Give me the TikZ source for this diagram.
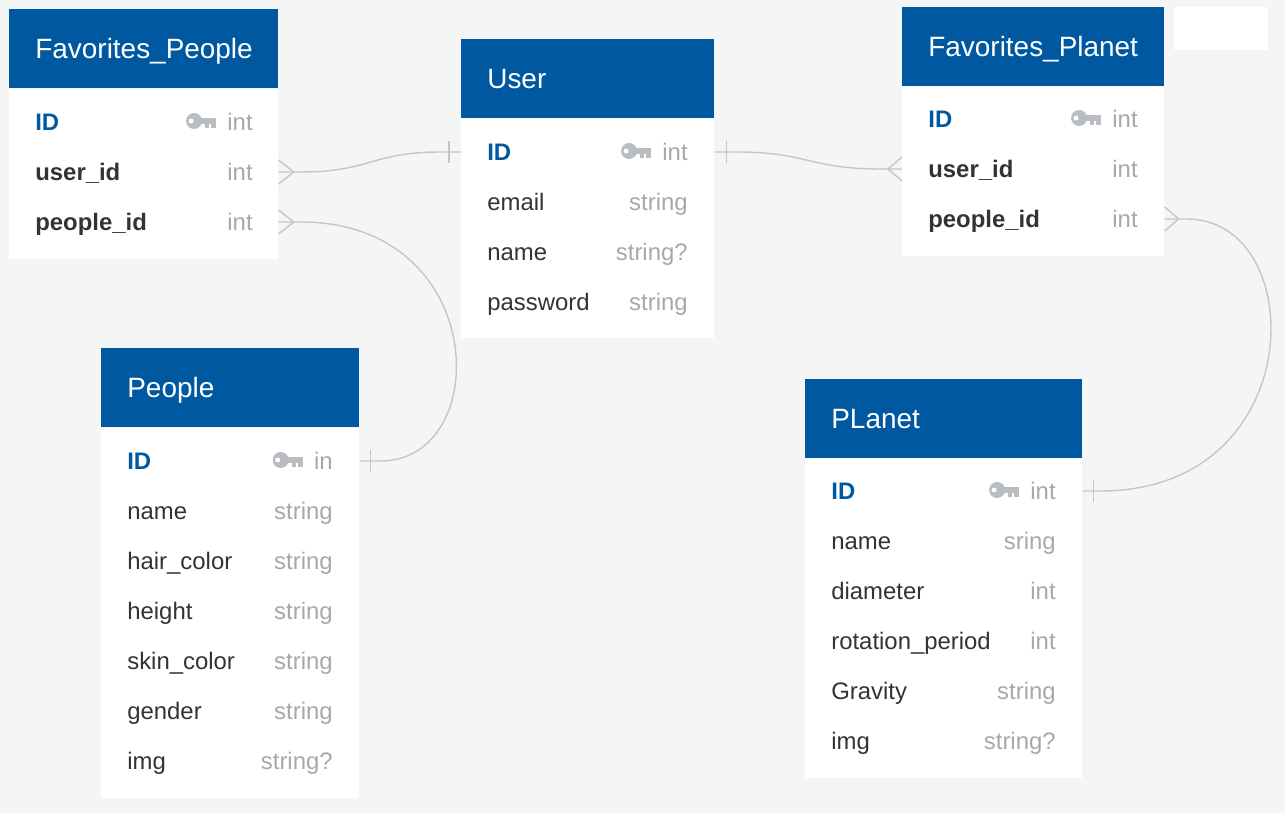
\documentclass[tikz,border=0pt]{standalone}
\usepackage{fontspec}
\setmainfont{Liberation Sans}
\usetikzlibrary{positioning,calc}
\definecolor{erblue}{HTML}{0059A0}
\definecolor{erbg}{HTML}{F4F5F5}
\definecolor{erdark}{HTML}{333333}
\definecolor{ergrey}{HTML}{A5A9AE}
\definecolor{erkey}{HTML}{B9BDC2}
\definecolor{erline}{HTML}{C6C6C6}

\tikzset{
  keyicon/.pic={
    \fill[erkey] (-22,-1) circle[radius=0.16cm];
    \fill[erkey] (-16,-3.5) rectangle (0,2);
    \fill[erkey] (-11,2) rectangle (-7,6);
    \fill[erkey] (-5,2) rectangle (0,6);
    \fill[white] (-25,-1) circle[radius=0.05cm];
  }
}

\begin{document}
\begin{tikzpicture}[x=0.02cm, y=-0.02cm,
    hdr/.style={fill=erblue, anchor=north west, inner sep=0, minimum height=1.58cm},
    body/.style={fill=white, anchor=north, inner sep=0},
    title/.style={text=white, anchor=west, inner sep=0, font=\fontsize{15.9}{18}\selectfont, text height=0.4cm, text depth=0pt},
    field/.style={text=erdark, anchor=west, inner sep=0, font=\fontsize{13.6}{16}\selectfont, text height=0.344cm, text depth=0pt},
    pk/.style={field, text=erblue, font=\fontsize{13.6}{16}\selectfont\bfseries},
    fk/.style={field, font=\fontsize{13.6}{16}\selectfont\bfseries},
    ftype/.style={field, text=ergrey, anchor=east},
    rel/.style={draw=erline, line width=0.8pt}]
  \useasboundingbox (0,0) rectangle (1285,813);
  \fill[erbg] (0,0) rectangle (1285,813);
  \fill[white] (1174,7) rectangle (1268,50);

  % Favorites_People
  \node[hdr, minimum width=5.38cm] (fpHead) at (9,9) {};
  \node[title] (fpTitle) at (35,48.5) {Favorites\_People};
  \node[body, minimum width=5.38cm, minimum height=3.4cm, below=0pt of fpHead] (fpBody) {};
  \node[pk] (fpId) at (35,122) {ID};
  \node[ftype] (fpIdT) at (253,122) {int};
  \pic at ([xshift=-0.22cm]fpIdT.west) {keyicon};
  \node[fk] (fpUid) at (35,172) {user\_id};
  \node[ftype] (fpUidT) at (253,172) {int};
  \node[fk] (fpPid) at (35,222) {people\_id};
  \node[ftype] (fpPidT) at (253,222) {int};

  % User
  \node[hdr, minimum width=5.06cm] (uHead) at (461,39) {};
  \node[title] (uTitle) at (487,78.5) {User};
  \node[body, minimum width=5.06cm, minimum height=4.38cm, below=0pt of uHead] (uBody) {};
  \node[pk] (uId) at (487,152) {ID};
  \node[ftype] (uIdT) at (688,152) {int};
  \pic at ([xshift=-0.22cm]uIdT.west) {keyicon};
  \node[field] (uEmail) at (487,202) {email};
  \node[ftype] (uEmailT) at (688,202) {string};
  \node[field] (uName) at (487,252) {name};
  \node[ftype] (uNameT) at (688,252) {string?};
  \node[field] (uPass) at (487,302) {password};
  \node[ftype] (uPassT) at (688,302) {string};

  % Favorites_Planet
  \node[hdr, minimum width=5.24cm] (fplHead) at (902,7) {};
  \node[title] (fplTitle) at (928,46.5) {Favorites\_Planet};
  \node[body, minimum width=5.24cm, minimum height=3.38cm, below=0pt of fplHead] (fplBody) {};
  \node[pk] (fplId) at (928,119) {ID};
  \node[ftype] (fplIdT) at (1138,119) {int};
  \pic at ([xshift=-0.22cm]fplIdT.west) {keyicon};
  \node[fk] (fplUid) at (928,169) {user\_id};
  \node[ftype] (fplUidT) at (1138,169) {int};
  \node[fk] (fplPid) at (928,219) {people\_id};
  \node[ftype] (fplPidT) at (1138,219) {int};

  % People
  \node[hdr, minimum width=5.16cm] (peHead) at (101,348) {};
  \node[title] (peTitle) at (127,387.5) {People};
  \node[body, minimum width=5.16cm, minimum height=7.4cm, below=0pt of peHead] (peBody) {};
  \node[pk] (peId) at (127,461) {ID};
  \node[ftype] (peIdT) at (333,461) {in};
  \pic at ([xshift=-0.22cm]peIdT.west) {keyicon};
  \node[field] (peName) at (127,511) {name};
  \node[ftype] (peNameT) at (333,511) {string};
  \node[field] (peHair) at (127,561) {hair\_color};
  \node[ftype] (peHairT) at (333,561) {string};
  \node[field] (peHeight) at (127,611) {height};
  \node[ftype] (peHeightT) at (333,611) {string};
  \node[field] (peSkin) at (127,661) {skin\_color};
  \node[ftype] (peSkinT) at (333,661) {string};
  \node[field] (peGender) at (127,711) {gender};
  \node[ftype] (peGenderT) at (333,711) {string};
  \node[field] (peImg) at (127,761) {img};
  \node[ftype] (peImgT) at (333,761) {string?};

  % PLanet
  \node[hdr, minimum width=5.54cm] (plHead) at (805,379) {};
  \node[title] (plTitle) at (831,418.5) {PLanet};
  \node[body, minimum width=5.54cm, minimum height=6.38cm, below=0pt of plHead] (plBody) {};
  \node[pk] (plId) at (831,491) {ID};
  \node[ftype] (plIdT) at (1056,491) {int};
  \pic at ([xshift=-0.22cm]plIdT.west) {keyicon};
  \node[field] (plName) at (831,541) {name};
  \node[ftype] (plNameT) at (1056,541) {sring};
  \node[field] (plDiam) at (831,591) {diameter};
  \node[ftype] (plDiamT) at (1056,591) {int};
  \node[field] (plRot) at (831,641) {rotation\_period};
  \node[ftype] (plRotT) at (1056,641) {int};
  \node[field] (plGrav) at (831,691) {Gravity};
  \node[ftype] (plGravT) at (1056,691) {string};
  \node[field] (plImg) at (831,741) {img};
  \node[ftype] (plImgT) at (1056,741) {string?};

  % relations
  \draw[rel] (fpBody.east |- fpUid) -- ++(22,0) .. controls +(70,0) and +(-70,0) .. ($(uBody.west |- uId)+(-20,0)$) -- (uBody.west |- uId);
  \draw[rel] (fpBody.east |- fpUid) +(0,-12) -- +(15,0) -- +(0,12);
  \draw[rel] (uBody.west |- uId) +(-12,-11) -- +(-12,11);

  \draw[rel] (uBody.east |- uId) -- ++(22,0) .. controls +(70,0) and +(-70,0) .. ($(fplBody.west |- fplUid)+(-22,0)$) -- (fplBody.west |- fplUid);
  \draw[rel] (uBody.east |- uId) +(12,-11) -- +(12,11);
  \draw[rel] (fplBody.west |- fplUid) +(0,-12) -- +(-14,0) -- +(0,12);

  \draw[rel] (fpBody.east |- fpPid) -- ++(22,0) .. controls +(190,0) and +(113,0) .. ($(peBody.east |- peId)+(21,0)$) -- (peBody.east |- peId);
  \draw[rel] (fpBody.east |- fpPid) +(0,-12) -- +(15,0) -- +(0,12);
  \draw[rel] (peBody.east |- peId) +(11,-11) -- +(11,11);

  \draw[rel] (fplBody.east |- fplPid) -- ++(22,0) .. controls +(124,0) and +(210,0) .. ($(plBody.east |- plId)+(18,0)$) -- (plBody.east |- plId);
  \draw[rel] (fplBody.east |- fplPid) +(0,-12) -- +(14,0) -- +(0,12);
  \draw[rel] (plBody.east |- plId) +(11,-11) -- +(11,11);
\end{tikzpicture}
\end{document}
